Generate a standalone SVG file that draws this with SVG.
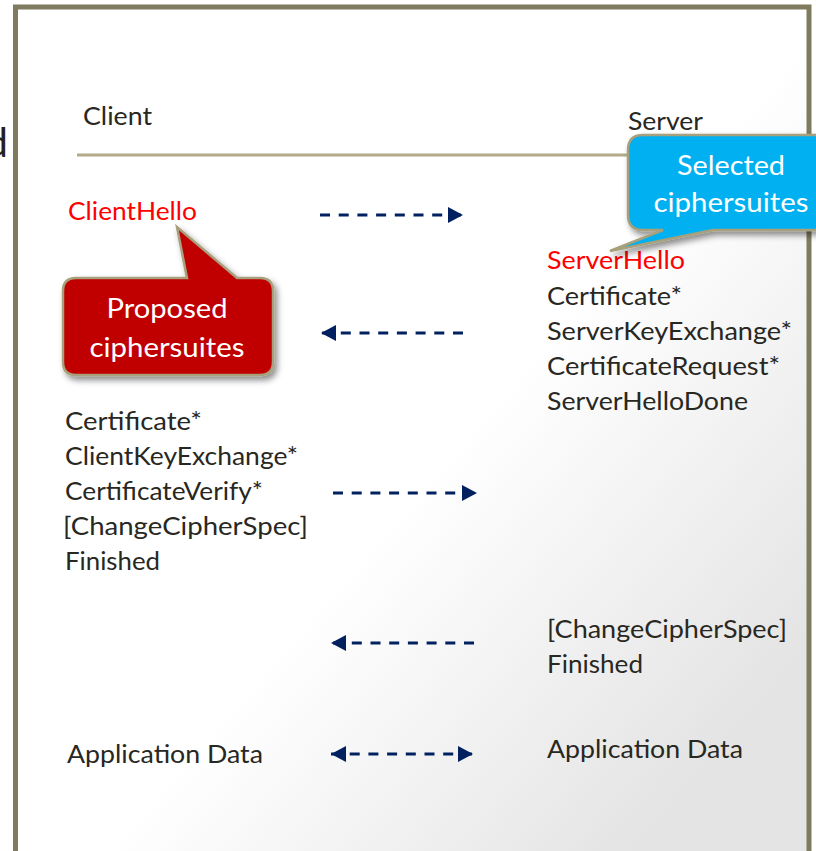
<svg xmlns="http://www.w3.org/2000/svg" width="816" height="851" viewBox="0 0 816 851">
  <defs>
    <linearGradient id="bg" gradientUnits="userSpaceOnUse" x1="580" y1="300" x2="880" y2="560">
      <stop offset="0" stop-color="#ffffff"/>
      <stop offset="1" stop-color="#e4e4e4"/>
    </linearGradient>
    <filter id="shadow" x="-20%" y="-20%" width="140%" height="150%">
      <feDropShadow dx="3" dy="4" stdDeviation="3" flood-color="#000" flood-opacity="0.45"/>
    </filter>
    <marker id="head" markerUnits="userSpaceOnUse" markerWidth="16" markerHeight="16" viewBox="0 0 15 16" refX="15" refY="8" orient="auto-start-reverse">
      <path d="M0,0 L15,8 L0,16 Z" fill="#002060"/>
    </marker>
  </defs>
  <style>
    .t { font-family: Lato, "Liberation Sans", sans-serif; font-size: 25px; fill: #282722; }
    .red { fill: #ff0000; }
    .w { fill: #ffffff; font-size: 27px; text-anchor: middle; }
    .arrow { stroke: #002060; stroke-width: 3; stroke-dasharray: 10 8.7; fill: none; }
    .call { stroke: #a8a07c; stroke-width: 2.5; filter: url(#shadow); }
  </style>

  <rect x="0" y="0" width="816" height="851" fill="#ffffff"/>
  <text x="8" y="157" text-anchor="end" font-family="Lato, 'Liberation Sans', sans-serif" font-size="40" fill="#222">d</text>

  <g id="frame">
    <rect x="15.5" y="7" width="793.5" height="870" fill="url(#bg)" stroke="#7f7b5f" stroke-width="5"/>
  </g>

  <g id="header">
    <text class="t" x="83" y="125" textLength="69" lengthAdjust="spacingAndGlyphs">Client</text>
    <text class="t" x="628" y="130" textLength="75" lengthAdjust="spacingAndGlyphs">Server</text>
    <line x1="77" y1="155" x2="640" y2="155" stroke="#b3ab87" stroke-width="3"/>
  </g>

  <g id="client-hello">
    <text class="t red" x="68" y="220" textLength="129" lengthAdjust="spacingAndGlyphs">ClientHello</text>
  </g>

  <g id="server-hello">
    <text class="t red" x="547" y="269" textLength="138" lengthAdjust="spacingAndGlyphs">ServerHello</text>
    <text class="t" x="547" y="305" textLength="135" lengthAdjust="spacingAndGlyphs">Certificate*</text>
    <text class="t" x="547" y="340" textLength="245" lengthAdjust="spacingAndGlyphs">ServerKeyExchange*</text>
    <text class="t" x="547" y="375" textLength="233" lengthAdjust="spacingAndGlyphs">CertificateRequest*</text>
    <text class="t" x="547" y="410" textLength="201" lengthAdjust="spacingAndGlyphs">ServerHelloDone</text>
  </g>

  <g id="client-finish">
    <text class="t" x="65" y="430" textLength="137" lengthAdjust="spacingAndGlyphs">Certificate*</text>
    <text class="t" x="65" y="465" textLength="233" lengthAdjust="spacingAndGlyphs">ClientKeyExchange*</text>
    <text class="t" x="65" y="500" textLength="198" lengthAdjust="spacingAndGlyphs">CertificateVerify*</text>
    <text class="t" x="63" y="535" textLength="245" lengthAdjust="spacingAndGlyphs">[ChangeCipherSpec]</text>
    <text class="t" x="65" y="570" textLength="95" lengthAdjust="spacingAndGlyphs">Finished</text>
  </g>

  <g id="server-finish">
    <text class="t" x="547" y="638" textLength="240" lengthAdjust="spacingAndGlyphs">[ChangeCipherSpec]</text>
    <text class="t" x="547" y="673" textLength="96" lengthAdjust="spacingAndGlyphs">Finished</text>
  </g>

  <g id="client-appdata">
    <text class="t" x="67" y="763" textLength="196" lengthAdjust="spacingAndGlyphs">Application Data</text>
  </g>
  <g id="server-appdata">
    <text class="t" x="547" y="758" textLength="196" lengthAdjust="spacingAndGlyphs">Application Data</text>
  </g>

  <g id="connectors">
    <line class="arrow" x1="320" y1="215" x2="463" y2="215" marker-end="url(#head)"/>
    <line class="arrow" x1="463" y1="333" x2="321" y2="333" marker-end="url(#head)"/>
    <line class="arrow" x1="333" y1="493" x2="477" y2="493" marker-end="url(#head)"/>
    <line class="arrow" x1="474" y1="643" x2="331" y2="643" marker-end="url(#head)"/>
    <line class="arrow" x1="331" y1="754" x2="473" y2="754" marker-start="url(#head)" marker-end="url(#head)"/>
  </g>

  <g id="callout-proposed">
    <path class="call" fill="#c00000" d="M76,278 L187,278 L177,227 L237,278 L260,278 Q273,278 273,291 L273,362 Q273,375 260,375 L76,375 Q63,375 63,362 L63,291 Q63,278 76,278 Z"/>
    <text class="t w" x="167" y="318" textLength="121" lengthAdjust="spacingAndGlyphs">Proposed</text>
    <text class="t w" x="167" y="357" textLength="155" lengthAdjust="spacingAndGlyphs">ciphersuites</text>
  </g>

  <g id="callout-selected">
    <path class="call" fill="#00b0f0" d="M643,135 L830,135 L830,230 L713,230 L610,251 L663,230 L643,230 Q628,230 628,215 L628,150 Q628,135 643,135 Z"/>
    <text class="t w" x="731" y="175" textLength="108" lengthAdjust="spacingAndGlyphs">Selected</text>
    <text class="t w" x="731" y="212" textLength="155" lengthAdjust="spacingAndGlyphs">ciphersuites</text>
  </g>
</svg>
